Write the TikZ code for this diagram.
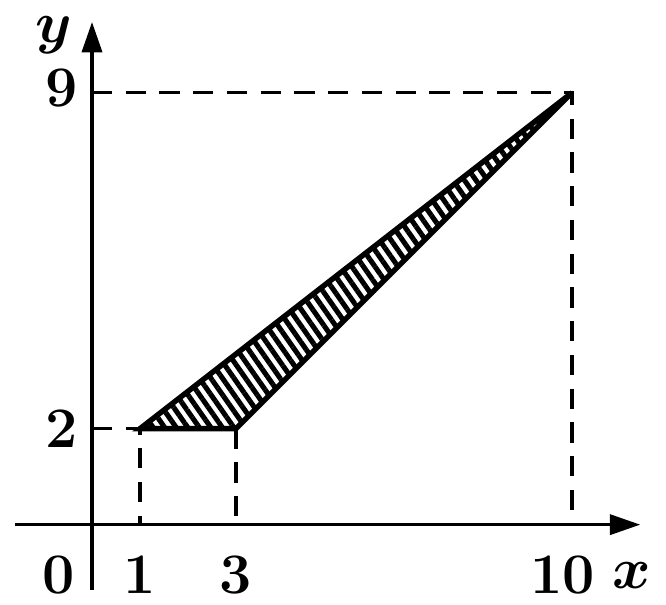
\documentclass[tikz,border=0pt]{standalone}
\usepackage{bm}
\usetikzlibrary{arrows.meta, patterns.meta}

\tikzset{
  axisline/.style={line width=0.9pt, -{Triangle[length=9pt,width=6pt]}},
  guideline/.style={line width=1pt, dash pattern=on 6pt off 4pt},
  ticklabel/.style={font=\fontsize{17}{20}\selectfont\bfseries, inner sep=0pt},
}

\begin{document}
\begin{tikzpicture}[x=0.5cm, y=0.5cm]
  \useasboundingbox (-1.917,-1.654) rectangle (11.958,10.93);

  % Corner points of the triangle
  \coordinate (A) at (1,2);
  \coordinate (B) at (3,2);
  \coordinate (C) at (10,9);

  % Foot points on the axes
  \coordinate (Ax) at (1,0);
  \coordinate (Bx) at (3,0);
  \coordinate (Cx) at (10,0);
  \coordinate (Ay) at (0,2);
  \coordinate (Cy) at (0,9);

  % Axes
  \coordinate (xstart) at (-1.6,0);
  \coordinate (xend) at (11.42,0);
  \coordinate (ystart) at (0,-1.36);
  \coordinate (yend) at (0,10.47);
  \draw[axisline] (xstart) -- (xend);
  \draw[axisline] (ystart) -- (yend);

  % Dashed guide lines
  \draw[guideline] (Cy) -- (C) -- (Cx);
  \draw[guideline] (Ay) -- (A) -- (Ax);
  \draw[guideline] (B) -- (Bx);

  % Hatched triangle
  \fill[pattern={Lines[angle=-55,distance=2.8pt,line width=1.5pt]}] (A) -- (B) -- (C) -- cycle;
  \draw[line width=1.6pt, line join=miter] (A) -- (B) -- (C) -- cycle;

  % Labels
  \node[ticklabel] (lab0) at (-0.7,-1.05) {0};
  \node[ticklabel] (lab1) at (1,-1.05) {1};
  \node[ticklabel] (lab3) at (3,-1.05) {3};
  \node[ticklabel] (lab10) at (9.8,-1.05) {10};
  \node[ticklabel] (labx) at (11.25,-1.05) {$\bm{x}$};
  \node[ticklabel] (lab2) at (-0.63,2) {2};
  \node[ticklabel] (lab9) at (-0.63,9.1) {9};
  \node[ticklabel] (laby) at (-0.8,10.2) {$\bm{y}$};
\end{tikzpicture}
\end{document}
